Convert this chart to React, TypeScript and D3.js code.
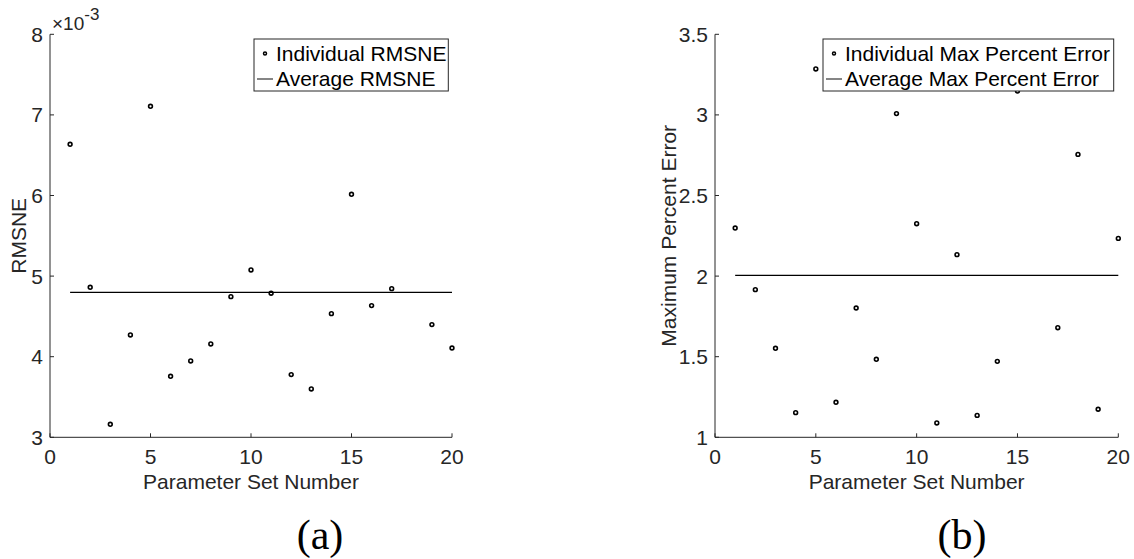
import React from "react";
import * as d3 from "d3";

// ---- Data ----
const paramSets = [1, 2, 3, 4, 5, 6, 7, 8, 9, 10, 11, 12, 13, 14, 15, 16, 17, 18, 19, 20];
// RMSNE values (x 10^-3)
const rmsne = [6.635, 4.861, 3.161, 4.27, 7.107, 3.757, 3.947, 4.158, 4.745, 5.076, 4.787, 3.778, 3.6, 4.534, 6.015, 4.634, 4.844, 7.565, 4.398, 4.108];
const rmsneAvg = 4.799;
// Maximum percent error
const maxPct = [2.298, 1.916, 1.552, 1.153, 3.285, 1.217, 1.802, 1.484, 3.008, 2.325, 1.089, 2.133, 1.136, 1.471, 3.148, 3.24, 1.68, 2.755, 1.174, 2.234];
const maxPctAvg = 2.005;

const xTicks = [0, 5, 10, 15, 20];
const leftYTicks = [3, 4, 5, 6, 7, 8];
const rightYTicks = [1, 1.5, 2, 2.5, 3, 3.5];

const AX = "#262626";
const FONT = "'Liberation Sans', Arial, Helvetica, sans-serif";

type PanelProps = {
  x0: number;
  x1: number;
  yTop: number;
  yBot: number;
  yDomain: [number, number];
  yTicks: number[];
  values: number[];
  avg: number;
  yLabel: string;
  yLabelX: number;
  legend: [string, string];
  legendBox: [number, number, number, number];
  exponent?: boolean;
};

function Panel(p: PanelProps) {
  const x = d3.scaleLinear().domain([0, 20]).range([p.x0, p.x1]);
  const y = d3.scaleLinear().domain(p.yDomain).range([p.yBot, p.yTop]);
  const fmt = (v: number) => (Number.isInteger(v) ? String(v) : d3.format(".1f")(v));
  const [lx, ly, lw, lh] = p.legendBox;
  const tl = 4;
  return (
    <g fontFamily={FONT}>
      {/* axes */}
      <line x1={p.x0} x2={p.x0} y1={p.yTop} y2={p.yBot} stroke={AX} strokeWidth={1} />
      <line x1={p.x0} x2={p.x1} y1={p.yBot} y2={p.yBot} stroke={AX} strokeWidth={1} />
      {xTicks.map((t) => (
        <g key={"xt" + t}>
          <line x1={x(t)} x2={x(t)} y1={p.yBot} y2={p.yBot - tl} stroke={AX} strokeWidth={1} />
          <text x={x(t)} y={p.yBot + 27} textAnchor="middle" fontSize={21} fill={AX}>
            {t}
          </text>
        </g>
      ))}
      {p.yTicks.map((t) => (
        <g key={"yt" + t}>
          <line x1={p.x0} x2={p.x0 + tl} y1={y(t)} y2={y(t)} stroke={AX} strokeWidth={1} />
          <text x={p.x0 - 7} y={y(t)} dy="0.36em" textAnchor="end" fontSize={21} fill={AX}>
            {fmt(t)}
          </text>
        </g>
      ))}
      {p.exponent && (
        <text x={p.x0 + 2} y={30} fontSize={19} fill={AX}>
          ×10
          <tspan fontSize={17} dy={-10}>
            -3
          </tspan>
        </text>
      )}
      {/* axis labels */}
      <text x={(p.x0 + p.x1) / 2} y={489} textAnchor="middle" fontSize={21} fill={AX}>
        Parameter Set Number
      </text>
      <text
        transform={`translate(${p.yLabelX},${(p.yTop + p.yBot) / 2}) rotate(-90)`}
        textAnchor="middle"
        fontSize={21}
        fill={AX}
      >
        {p.yLabel}
      </text>
      {/* average line */}
      <line x1={x(1)} x2={x(20)} y1={y(p.avg)} y2={y(p.avg)} stroke="#000" strokeWidth={1.2} />
      {/* points */}
      {paramSets.map((s, i) => (
        <circle key={"pt" + s} cx={x(s)} cy={y(p.values[i])} r={1.9} fill="none" stroke="#000" strokeWidth={1.6} />
      ))}
      {/* legend */}
      <rect x={lx} y={ly} width={lw} height={lh} fill="#fff" stroke={AX} strokeWidth={1} />
      <circle cx={lx + 11} cy={ly + 14.5} r={1.5} fill="none" stroke="#000" strokeWidth={1.5} />
      <line x1={lx + 3} x2={lx + 19} y1={ly + 40} y2={ly + 40} stroke="#333" strokeWidth={1.2} />
      <text x={lx + 22} y={ly + 22} fontSize={21} fill="#000">
        {p.legend[0]}
      </text>
      <text x={lx + 22} y={ly + 47} fontSize={21} fill="#000">
        {p.legend[1]}
      </text>
    </g>
  );
}

export default function App() {
  return (
    <svg
      width={1134}
      height={559}
      viewBox="0 0 1134 559"
      style={{ position: "absolute", left: 0, top: 0, background: "#fff" }}
    >
      <rect x={0} y={0} width={1134} height={559} fill="#fff" />
      <Panel
        x0={50}
        x1={452}
        yTop={34.3}
        yBot={437.3}
        yDomain={[3, 8]}
        yTicks={leftYTicks}
        values={rmsne}
        avg={rmsneAvg}
        yLabel="RMSNE"
        yLabelX={26}
        legend={["Individual RMSNE", "Average RMSNE"]}
        legendBox={[254, 39, 194.3, 52]}
        exponent
      />
      <Panel
        x0={715}
        x1={1118.3}
        yTop={34.3}
        yBot={437.3}
        yDomain={[1, 3.5]}
        yTicks={rightYTicks}
        values={maxPct}
        avg={maxPctAvg}
        yLabel="Maximum Percent Error"
        yLabelX={676}
        legend={["Individual Max Percent Error", "Average Max Percent Error"]}
        legendBox={[823, 39, 290.7, 52]}
      />
      <text x={320} y={549} textAnchor="middle" fontSize={42} fontFamily="'Liberation Serif', 'Times New Roman', serif" fill="#000">
        (a)
      </text>
      <text x={962} y={549} textAnchor="middle" fontSize={42} fontFamily="'Liberation Serif', 'Times New Roman', serif" fill="#000">
        (b)
      </text>
    </svg>
  );
}
